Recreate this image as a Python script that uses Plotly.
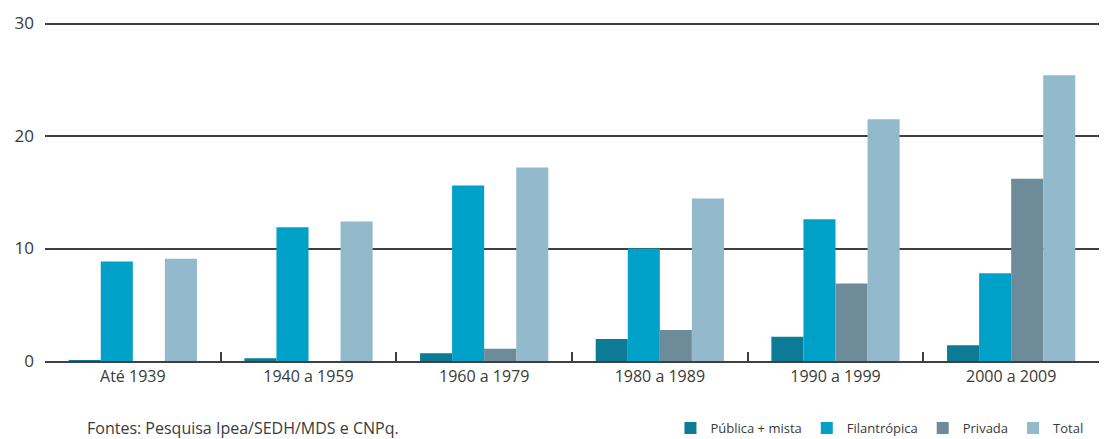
import plotly.graph_objects as go

categories = ["Até 1939", "1940 a 1959", "1960 a 1979", "1980 a 1989", "1990 a 1999", "2000 a 2009"]
publica = [0.05, 0.25, 0.7, 1.95, 2.15, 1.4]
filantropica = [8.85, 11.9, 15.6, 10.0, 12.6, 7.8]
privada = [0.0, 0.0, 1.1, 2.75, 6.9, 16.2]
total = [9.1, 12.4, 17.2, 14.45, 21.5, 25.4]

series_names = ["Pública + mista", "Filantrópica", "Privada", "Total"]
series_values = [publica, filantropica, privada, total]
series_colors = ["#0d7b96", "#00a1c8", "#6d8b98", "#93b9cc"]

y_ticks = [0, 10, 20, 30]

fig = go.Figure()
for name, vals, col in zip(series_names, series_values, series_colors):
    fig.add_trace(go.Bar(x=categories, y=vals, name=name, marker_color=col,
                         marker_line_width=0))

fig.update_layout(
    width=1099, height=431,
    margin=dict(l=37, r=8, t=11, b=78, autoexpand=False),
    barmode="group", bargap=0.27, bargroupgap=0,
    plot_bgcolor="white", paper_bgcolor="white",
    font=dict(family="Open Sans", size=16, color="#3a3a3a"),
    showlegend=True,
    legend=dict(orientation="h", x=0.99, xanchor="right", y=-0.196, yanchor="middle",
                font=dict(size=13, color="#3a3a3a"), traceorder="normal",
                itemwidth=30, tracegroupgap=0),
    xaxis=dict(showgrid=False, showline=True, linecolor="#404040", linewidth=2,
               ticks="inside", tickson="boundaries", ticklen=9, tickwidth=1.5,
               tickcolor="#404040", tickfont=dict(size=16), automargin=False),
    yaxis=dict(range=[0, 30.4], tickvals=y_ticks, showgrid=True, gridcolor="#404040",
               gridwidth=2, zeroline=False, showline=False, ticks="",
               tickfont=dict(size=17), ticklabelstandoff=10, automargin=False),
    annotations=[dict(text="Fontes: Pesquisa Ipea/SEDH/MDS e CNPq.", xref="paper", yref="paper",
                      x=0.038, y=-0.196, xanchor="left", yanchor="middle", showarrow=False,
                      font=dict(size=16, color="#3a3a3a"))],
)

fig.write_html("out.html")
